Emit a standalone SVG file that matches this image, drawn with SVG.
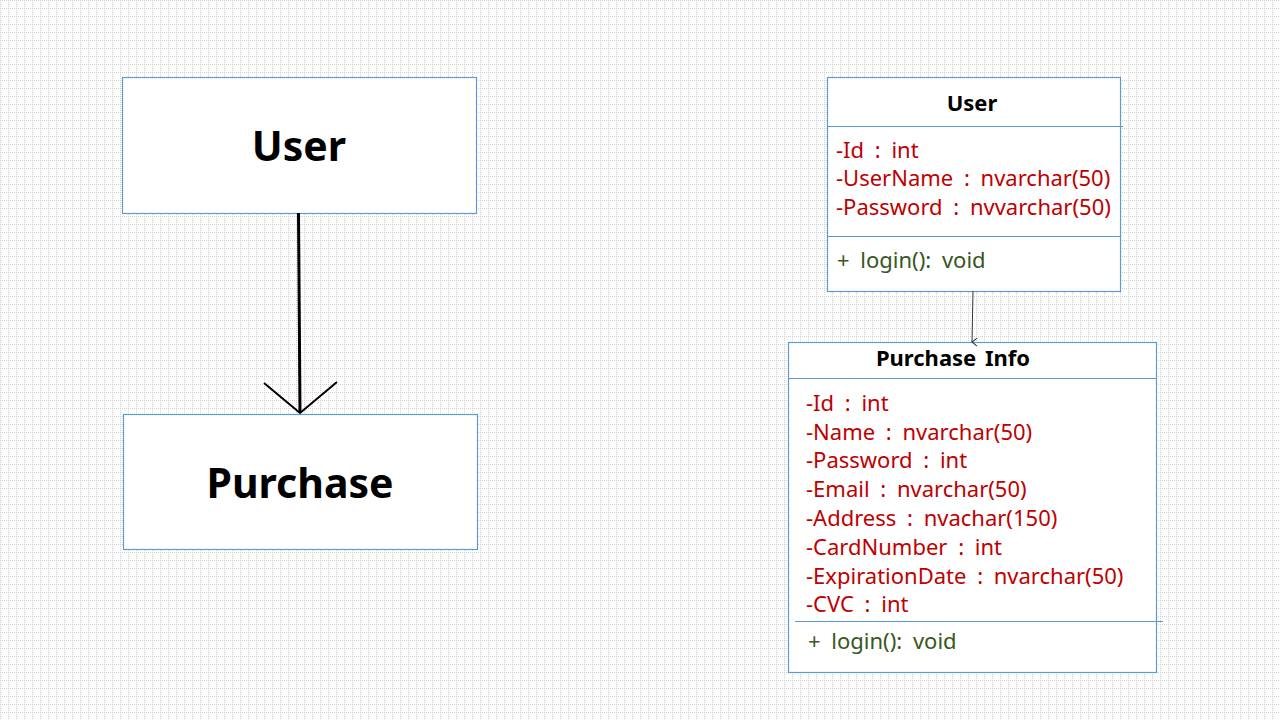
<svg xmlns="http://www.w3.org/2000/svg" width="1280" height="720" viewBox="0 0 1280 720">
<style>
.box{fill:#ffffff;stroke:#5b9bd5;stroke-width:1.2}
.div{stroke:#5b9bd5;stroke-width:1.2;fill:none}
.big{font-family:"Noto Sans","Liberation Sans",sans-serif;font-weight:bold;font-size:41px;fill:#000;text-anchor:middle}
.ttl{font-family:"Noto Sans","Liberation Sans",sans-serif;font-weight:bold;font-size:22px;fill:#000;text-anchor:middle;word-spacing:3px}
.attr{font-family:"Noto Sans","Liberation Sans",sans-serif;font-size:22px;fill:#c00000;word-spacing:5px}
.op{font-family:"Noto Sans","Liberation Sans",sans-serif;font-size:22px;fill:#385723;word-spacing:5px}
</style>
<defs>
<pattern id="grid" width="8" height="8" patternUnits="userSpaceOnUse">
<rect width="8" height="8" fill="#ffffff"/>
<g fill="#cfcfcf">
<rect x="0" y="0" width="1" height="1"/><rect x="2" y="0" width="1" height="1"/><rect x="4" y="0" width="1" height="1"/><rect x="6" y="0" width="1" height="1"/>
<rect x="0" y="2" width="1" height="1"/><rect x="0" y="4" width="1" height="1"/><rect x="0" y="6" width="1" height="1"/>
</g>
</pattern>
<marker id="open" markerWidth="10" markerHeight="10" refX="5" refY="9" orient="auto" markerUnits="userSpaceOnUse" viewBox="0 0 10 10">
<path d="M1,4 L5,9 L9,4" fill="none" stroke="#333" stroke-width="1"/>
</marker>
</defs>
<rect width="1280" height="720" fill="url(#grid)"/>

<g id="user-simple">
<rect class="box" x="122.5" y="77.5" width="354" height="136"/>
<text class="big" x="299" y="161">User</text>
</g>
<g id="purchase-simple">
<rect class="box" x="123.5" y="414.5" width="354" height="135"/>
<text class="big" x="300" y="498">Purchase</text>
</g>

<g id="user-class">
<rect class="box" x="827.5" y="77.5" width="293" height="214"/>
<text class="ttl" x="972" y="111">User</text>
<line class="div" x1="827" y1="126.5" x2="1123" y2="126.5"/>
<text class="attr" x="836" y="158">-Id : int</text>
<text class="attr" x="836" y="186">-UserName : nvarchar(50)</text>
<text class="attr" x="836" y="215">-Password : nvvarchar(50)</text>
<line class="div" x1="827" y1="236.5" x2="1120" y2="236.5"/>
<text class="op" x="837" y="268">+ login(): void</text>
</g>

<g id="purchaseinfo-class">
<rect class="box" x="788.5" y="342.5" width="368" height="330"/>
<text class="ttl" x="953" y="366">Purchase Info</text>
<line class="div" x1="788" y1="378.5" x2="1157" y2="378.5"/>
<text class="attr" x="806" y="411">-Id : int</text>
<text class="attr" x="806" y="440">-Name : nvarchar(50)</text>
<text class="attr" x="806" y="468">-Password : int</text>
<text class="attr" x="806" y="497">-Email : nvarchar(50)</text>
<text class="attr" x="806" y="526">-Address : nvachar(150)</text>
<text class="attr" x="806" y="555">-CardNumber : int</text>
<text class="attr" x="806" y="584">-ExpirationDate : nvarchar(50)</text>
<text class="attr" x="806" y="612">-CVC : int</text>
<line class="div" x1="795" y1="621.5" x2="1163" y2="621.5"/>
<text class="op" x="808" y="649">+ login(): void</text>
</g>

<g id="connectors">
<line x1="298.5" y1="213" x2="300" y2="413" stroke="#000" stroke-width="3"/>
<polyline points="264,383 300,413 337,382" fill="none" stroke="#000" stroke-width="2"/>
<line x1="973" y1="291" x2="972" y2="342" stroke="#333" stroke-width="1" marker-end="url(#open)"/>
</g>
</svg>
